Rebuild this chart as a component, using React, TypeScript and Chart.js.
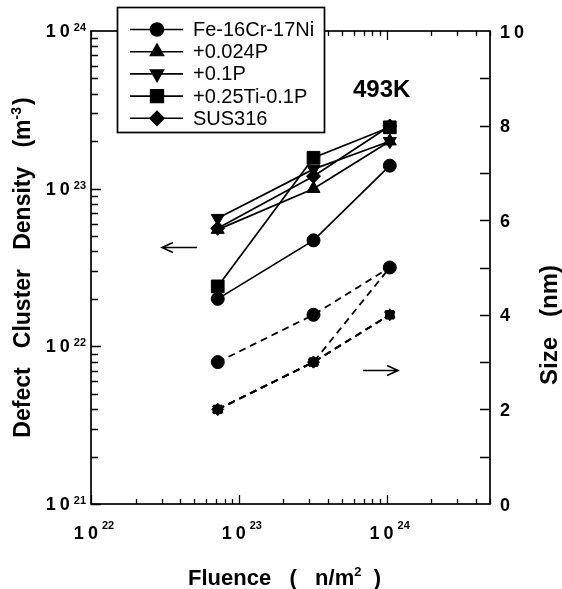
import React, { useEffect, useRef } from 'react';
import { Chart, registerables } from 'chart.js';
import { drawPoint } from 'chart.js/helpers';

Chart.register(...registerables);

// ---- data ----
const fluence = [7.2e22, 3.2e23, 1.05e24];
const seriesNames = ['Fe-16Cr-17Ni', '+0.024P', '+0.1P', '+0.25Ti-0.1P', 'SUS316'];
const densityFe = [2.0e22, 4.7e22, 1.4e23];
const densityP024 = [5.5e22, 1.0e23, 2.0e23];
const densityP1 = [6.5e22, 1.33e23, 2.0e23];
const densityTi = [2.4e22, 1.57e23, 2.45e23];
const densitySUS = [5.6e22, 1.2e23, 2.5e23];
const sizeFe = [3, 4, 5];
const sizeP024 = [2, 3, 4];
const sizeP1 = [2, 3, 4];
const sizeTi = [2, 3, 4];
const sizeSUS = [2, 3, 5];
const xTickValues = [1e22, 1e23, 1e24];
const xTickExps = ['22', '23', '24'];
const yTickValues = [1e21, 1e22, 1e23, 1e24];
const yTickExps = ['21', '22', '23', '24'];
const sizeTickValues = [0, 2, 4, 6, 8, 10];
const tempLabel = '493K';

// ---- styles ----
const FONT = "'Liberation Sans', Arial, Helvetica, sans-serif";
const densityMarkers = [
  { pointStyle: 'circle', rotation: 0, radius: 6.5 },
  { pointStyle: 'triangle', rotation: 0, radius: 7.5 },
  { pointStyle: 'triangle', rotation: 180, radius: 7.5 },
  { pointStyle: 'rect', rotation: 0, radius: 9 },
  { pointStyle: 'rectRot', rotation: 0, radius: 7 },
];
const sizeMarkers = [
  { pointStyle: 'circle', rotation: 0, radius: 6.5 },
  { pointStyle: 'triangle', rotation: 0, radius: 6 },
  { pointStyle: 'triangle', rotation: 180, radius: 6 },
  { pointStyle: 'rect', rotation: 0, radius: 6 },
  { pointStyle: 'rectRot', rotation: 0, radius: 6 },
];

const densitySeries = [densityFe, densityP024, densityP1, densityTi, densitySUS];
const sizeSeries = [sizeFe, sizeP024, sizeP1, sizeTi, sizeSUS];

type Part = { t: string; size: number; dy?: number; weight?: string; ls?: number; gap?: number };

function setFont(ctx: CanvasRenderingContext2D, p: Part) {
  ctx.font = `${p.weight ?? 'bold'} ${p.size}px ${FONT}`;
  (ctx as any).letterSpacing = `${p.ls ?? 0}px`;
}

function partsWidth(ctx: CanvasRenderingContext2D, parts: Part[]) {
  let w = 0;
  for (const p of parts) {
    setFont(ctx, p);
    w += ctx.measureText(p.t).width + (p.gap ?? 0);
  }
  return w;
}

function drawParts(ctx: CanvasRenderingContext2D, parts: Part[], x: number, y: number, align: 'left' | 'center' | 'right') {
  const w = partsWidth(ctx, parts);
  let cx = align === 'left' ? x : align === 'center' ? x - w / 2 : x - w;
  ctx.textAlign = 'left';
  ctx.textBaseline = 'alphabetic';
  for (const p of parts) {
    setFont(ctx, p);
    ctx.fillText(p.t, cx, y - (p.dy ?? 0));
    cx += ctx.measureText(p.t).width + (p.gap ?? 0);
  }
  (ctx as any).letterSpacing = '0px';
}

const decorPlugin = {
  id: 'decor',
  afterDraw(chart: any) {
    const { ctx, chartArea: a, scales } = chart;
    const sx = scales.x, sy = scales.y, sy2 = scales.y2;
    ctx.save();
    ctx.strokeStyle = '#000';
    ctx.fillStyle = '#000';

    // frame
    ctx.lineWidth = 1.7;
    ctx.strokeRect(a.left, a.top, a.right - a.left, a.bottom - a.top);

    // ticks
    ctx.lineWidth = 1.3;
    ctx.beginPath();
    for (let e = 22; e <= 24; e++) {
      for (let m = 1; m <= 9; m++) {
        const v = m * Math.pow(10, e);
        if (v > sx.max * 1.0001) continue;
        const px = Math.round(sx.getPixelForValue(v)) + 0.5;
        const len = m === 1 ? 9 : 5;
        ctx.moveTo(px, a.bottom);
        ctx.lineTo(px, a.bottom - len);
        ctx.moveTo(px, a.top);
        ctx.lineTo(px, a.top + len);
      }
    }
    for (let e = 21; e <= 23; e++) {
      for (let m = 1; m <= 9; m++) {
        const v = m * Math.pow(10, e);
        const py = Math.round(sy.getPixelForValue(v)) + 0.5;
        const len = m === 1 ? 10 : 7;
        ctx.moveTo(a.left, py);
        ctx.lineTo(a.left + len, py);
      }
    }
    for (let v = 1; v <= 9; v++) {
      const py = Math.round(sy2.getPixelForValue(v)) + 0.5;
      ctx.moveTo(a.right, py);
      ctx.lineTo(a.right - 10, py);
    }
    ctx.stroke();

    // tick labels
    yTickValues.forEach((v, i) => {
      const py = sy.getPixelForValue(v);
      drawParts(ctx, [
        { t: '10', size: 18, ls: 4 },
        { t: yTickExps[i], size: 11, dy: 6 },
      ], a.left - 5, py + 6, 'right');
    });
    xTickValues.forEach((v, i) => {
      const px = sx.getPixelForValue(v);
      drawParts(ctx, [
        { t: '10', size: 18, ls: 4 },
        { t: xTickExps[i], size: 11, dy: 10 },
      ], px + 3, a.bottom + 35, 'center');
    });
    sizeTickValues.forEach((v) => {
      const py = sy2.getPixelForValue(v);
      drawParts(ctx, [{ t: String(v), size: 18, ls: v >= 10 ? 4 : 0 }], a.right + 10, py + 6.5, 'left');
    });

    // axis titles
    const cxA = (a.left + a.right) / 2;
    drawParts(ctx, [
      { t: 'Fluence   (   n/m', size: 22 },
      { t: '2', size: 13, dy: 9 },
      { t: '  )', size: 22 },
    ], cxA - 6, a.bottom + 81, 'center');

    ctx.save();
    ctx.translate(30, (a.top + a.bottom) / 2);
    ctx.rotate(-Math.PI / 2);
    drawParts(ctx, [
      { t: 'Defect   Cluster   Density   (m', size: 23 },
      { t: '-3', size: 14, dy: 9, gap: 2 },
      { t: ')', size: 23 },
    ], 0, 0, 'center');
    ctx.restore();

    ctx.save();
    ctx.translate(557, 325);
    ctx.rotate(-Math.PI / 2);
    drawParts(ctx, [{ t: 'Size   (nm)', size: 24 }], 0, 0, 'center');
    ctx.restore();

    // temperature label
    drawParts(ctx, [{ t: tempLabel, size: 24 }], 353, 97, 'left');

    // arrows
    ctx.lineWidth = 1.6;
    const arrow = (x1: number, x2: number, yv: number, dir: number) => {
      ctx.beginPath();
      ctx.moveTo(x1, yv);
      ctx.lineTo(x2, yv);
      const tip = dir < 0 ? x1 : x2;
      ctx.moveTo(tip - dir * 11, yv - 5);
      ctx.lineTo(tip, yv);
      ctx.lineTo(tip - dir * 11, yv + 5);
      ctx.stroke();
    };
    arrow(162, 197, Math.round(sy.getPixelForValue(4.25e22)) + 0.5, -1);
    arrow(363, 398, Math.round(sy2.getPixelForValue(2.83)) + 0.5, 1);

    // legend
    const lx = 117.5, ly = 7.5, lw = 207, lh = 125;
    ctx.fillStyle = '#fff';
    ctx.fillRect(lx, ly, lw, lh);
    ctx.lineWidth = 1.7;
    ctx.strokeRect(lx, ly, lw, lh);
    ctx.fillStyle = '#000';
    seriesNames.forEach((name, i) => {
      const ry = 29.5 + i * 22.2;
      ctx.lineWidth = 1.6;
      ctx.beginPath();
      ctx.moveTo(130, ry);
      ctx.lineTo(183, ry);
      ctx.stroke();
      const mk = densityMarkers[i];
      drawPoint(ctx, { pointStyle: mk.pointStyle as any, rotation: mk.rotation, radius: mk.radius, borderWidth: 1 }, 157, ry);
      ctx.font = `normal 20px ${FONT}`;
      ctx.textAlign = 'left';
      ctx.textBaseline = 'middle';
      ctx.fillText(name, 193, ry + 1);
    });
    ctx.restore();
  },
};

function buildDatasets() {
  const ds: any[] = [];
  densitySeries.forEach((vals, i) => {
    const mk = densityMarkers[i];
    ds.push({
      label: seriesNames[i],
      data: fluence.map((f, j) => ({ x: f, y: vals[j] })),
      yAxisID: 'y',
      borderColor: '#000',
      backgroundColor: '#000',
      borderWidth: 1.7,
      pointStyle: mk.pointStyle,
      pointRotation: mk.rotation,
      pointRadius: mk.radius,
      pointBackgroundColor: '#000',
      pointBorderColor: '#000',
      pointBorderWidth: 1,
      tension: 0,
    });
  });
  sizeSeries.forEach((vals, i) => {
    const mk = sizeMarkers[i];
    ds.push({
      label: seriesNames[i] + ' size',
      data: fluence.map((f, j) => ({ x: f, y: vals[j] })),
      yAxisID: 'y2',
      borderColor: '#000',
      backgroundColor: '#000',
      borderWidth: 1.8,
      borderDash: [7, 5],
      pointStyle: mk.pointStyle,
      pointRotation: mk.rotation,
      pointRadius: mk.radius,
      pointBackgroundColor: '#000',
      pointBorderColor: '#000',
      pointBorderWidth: 1,
      tension: 0,
    });
  });
  return ds;
}

export default function App() {
  const ref = useRef<HTMLCanvasElement>(null);
  useEffect(() => {
    if (!ref.current) return;
    const chart = new Chart(ref.current, {
      type: 'line',
      data: { datasets: buildDatasets() },
      options: {
        animation: false,
        responsive: true,
        maintainAspectRatio: false,
        devicePixelRatio: 1,
        layout: { padding: { left: 91, right: 72, top: 31, bottom: 85 } },
        plugins: { legend: { display: false }, tooltip: { enabled: false } },
        scales: {
          x: { type: 'logarithmic', min: 1e22, max: 5e24, display: false },
          y: { type: 'logarithmic', position: 'left', min: 1e21, max: 1e24, display: false },
          y2: { type: 'linear', position: 'right', min: 0, max: 10, display: false },
        },
      } as any,
      plugins: [decorPlugin],
    });
    return () => chart.destroy();
  }, []);
  return (
    <div style={{ position: 'fixed', left: 0, top: 0, width: 562, height: 589, background: '#fff' }}>
      <canvas ref={ref} />
    </div>
  );
}
